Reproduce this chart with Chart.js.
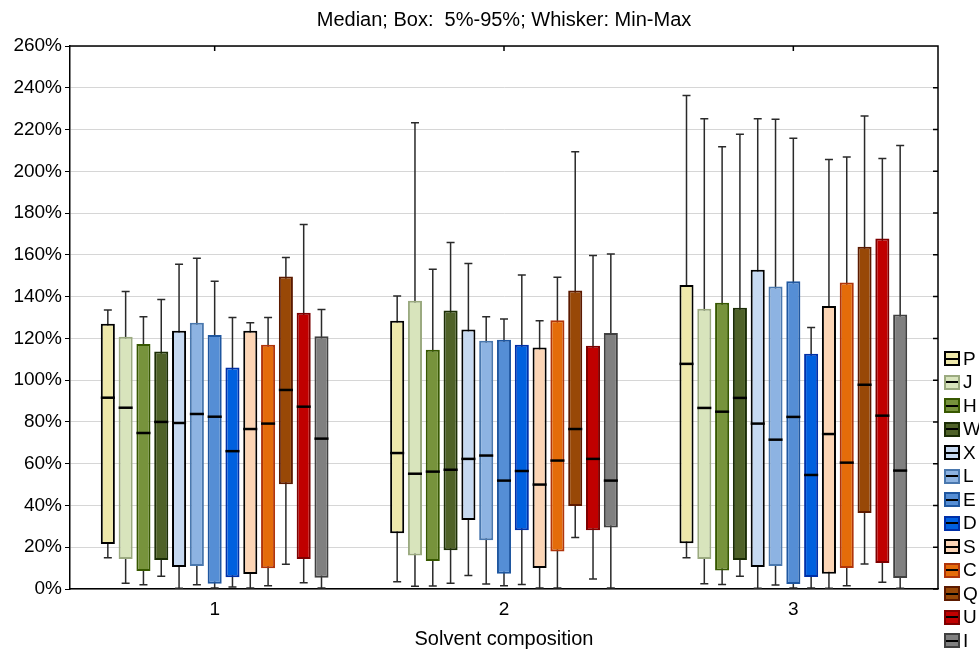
<!DOCTYPE html>
<html>
<head>
<meta charset="utf-8">
<script src="https://cdn.jsdelivr.net/npm/chart.js@4/dist/chart.umd.min.js"></script>
<style>
  body { margin: 0; background: #fff; font-family: "Liberation Sans", Arial, sans-serif; }
  #wrap { position: relative; width: 979px; height: 651px; overflow: hidden; }
  #legend { position: absolute; left: 944px; top: 347px; }
  .item { height: 23.5px; display: flex; align-items: center; white-space: nowrap; }
  .sw { width: 12px; height: 11px; border: 2px solid #000; position: relative; margin-right: 3px; }
  .sw::after { content: ""; position: absolute; left: 0; right: 0; top: 4.5px; height: 2px; background: #000; }
  .lab { font-size: 19px; color: #000; }
</style>
</head>
<body>
<div id="wrap">
  <canvas id="boxChart" width="979" height="651"></canvas>
  <div id="legend"></div>
</div>
<script>
// categories and series
const categories = ['1', '2', '3'];
const seriesNames = ['P', 'J', 'H', 'W', 'X', 'L', 'E', 'D', 'S', 'C', 'Q', 'U', 'I'];

// values in %, one row per series, one column per category
const minVals = [
  [15, 3.5, 15], [2.7, 1.3, 2.5], [2, 1.4, 2.1], [6.1, 2.7, 6.1], [0.3, 6.5, 0.3],
  [2, 2.4, 1.9], [0.5, 1.6, 0.5], [1, 2.1, 0.5], [0.5, 0.5, 0.3], [1.6, 0.5, 1.6],
  [11.8, 24.6, 12], [3, 4.8, 3.2], [0.5, 0.5, 0.3]
];
const p5Vals = [
  [21.5, 26.7, 21.9], [14.4, 16, 14.4], [8.6, 13.4, 8.8], [13.9, 18.5, 13.9], [10.5, 33, 10.5],
  [11, 23.3, 11], [2.5, 7.3, 2.4], [5.6, 28.1, 5.7], [7.2, 10.1, 7.3], [9.9, 18, 10.1],
  [50.1, 39.8, 36.4], [14.4, 28.1, 12.5], [5.4, 29.4, 5.3]
];
const medianVals = [
  [91.6, 65.1, 107.8], [86.8, 55.2, 86.7], [74.7, 56.2, 84.9], [80, 57.1, 91.5], [79.5, 62.3, 79.2],
  [83.8, 63.9, 71.5], [82.5, 51.9, 82.4], [66, 56.5, 54.6], [76.6, 50, 74.2], [79.2, 61.5, 60.5],
  [95.3, 76.6, 97.8], [87.3, 62.3, 83], [72, 51.9, 56.7]
];
const p95Vals = [
  [127, 128.5, 145.6], [120.8, 138, 134.2], [117.3, 114.6, 137.1], [113.7, 133.3, 134.7], [123.6, 124.2, 152.9],
  [127.5, 118.9, 144.8], [121.6, 119.4, 147.4], [106, 117, 112.7], [123.6, 115.6, 135.5], [116.9, 128.7, 146.7],
  [149.6, 142.9, 163.9], [132.3, 116.5, 167.8], [121, 122.6, 131.4]
];
const maxVals = [
  [133.6, 140.3, 236.3], [142.4, 223.3, 225.2], [130.3, 153.1, 211.7], [138.6, 165.9, 217.8], [155.5, 155.8, 225.2],
  [158.4, 130.3, 224.9], [147.4, 129.3, 215.8], [130, 150.4, 125.2], [127.5, 128.4, 205.6], [130, 149.3, 206.8],
  [158.7, 209.4, 226.5], [174.5, 159.7, 206.1], [133.8, 160.4, 212.3]
];

const fills = ['#EEE8AA', '#D8E4BC', '#77933C', '#4F6228', '#C6D9F1', '#8DB3E2', '#558ED5',
               '#0060DF', '#FCD5B5', '#E46C0A', '#984807', '#C00000', '#808080'];
const borders = ['#000000', '#9BAA80', '#375800', '#1B2D05', '#000000', '#4A78AE', '#1F57A0',
                 '#0030A8', '#000000', '#B0350A', '#5C1A00', '#7E0000', '#404040'];

const FONT = '"Liberation Sans", Arial, sans-serif';

const datasets = seriesNames.map((name, i) => ({
  label: name,
  data: categories.map((c, j) => [p5Vals[i][j], p95Vals[i][j]]),
  backgroundColor: fills[i],
  borderColor: borders[i],
  borderWidth: 2,
  borderSkipped: false,
  categoryPercentage: 0.8,
  barPercentage: 0.79
}));

// whiskers behind the boxes, medians on top
const boxPlot = {
  id: 'boxPlot',
  afterLayout(chart) {
    // centre the title over the plot area
    if (chart.titleBlock) {
      chart.titleBlock.left = chart.chartArea.left;
      chart.titleBlock.right = chart.chartArea.right;
      chart.titleBlock.width = chart.chartArea.right - chart.chartArea.left;
    }
  },
  beforeDatasetsDraw(chart) {
    const ctx = chart.ctx, y = chart.scales.y;
    ctx.save();
    ctx.strokeStyle = '#2a2a2a';
    ctx.lineWidth = 1.5;
    chart.data.datasets.forEach((ds, i) => {
      chart.getDatasetMeta(i).data.forEach((bar, j) => {
        const yLo = y.getPixelForValue(minVals[i][j]);
        const yHi = y.getPixelForValue(maxVals[i][j]);
        ctx.beginPath();
        ctx.moveTo(bar.x, yLo); ctx.lineTo(bar.x, yHi);
        ctx.moveTo(bar.x - 4, yLo); ctx.lineTo(bar.x + 4, yLo);
        ctx.moveTo(bar.x - 4, yHi); ctx.lineTo(bar.x + 4, yHi);
        ctx.stroke();
      });
    });
    ctx.restore();
  },
  afterDatasetsDraw(chart) {
    const ctx = chart.ctx, y = chart.scales.y;
    ctx.save();
    ctx.strokeStyle = '#000';
    ctx.lineWidth = 2.5;
    chart.data.datasets.forEach((ds, i) => {
      chart.getDatasetMeta(i).data.forEach((bar, j) => {
        const ym = y.getPixelForValue(medianVals[i][j]);
        ctx.beginPath();
        ctx.moveTo(bar.x - bar.width / 2, ym);
        ctx.lineTo(bar.x + bar.width / 2, ym);
        ctx.stroke();
      });
    });
    ctx.restore();
  },
  afterDraw(chart) {
    // top and right frame with inward ticks
    const ctx = chart.ctx, a = chart.chartArea, x = chart.scales.x, y = chart.scales.y;
    ctx.save();
    ctx.strokeStyle = '#000';
    ctx.lineWidth = 1.5;
    ctx.beginPath();
    ctx.moveTo(a.left, a.top); ctx.lineTo(a.right, a.top); ctx.lineTo(a.right, a.bottom);
    y.ticks.forEach((t, k) => {
      const py = y.getPixelForTick(k);
      ctx.moveTo(a.right, py); ctx.lineTo(a.right - 5, py);
    });
    x.ticks.forEach((t, k) => {
      const px = x.getPixelForTick(k);
      ctx.moveTo(px, a.top); ctx.lineTo(px, a.top + 5);
    });
    ctx.stroke();
    ctx.restore();
  }
};

new Chart(document.getElementById('boxChart'), {
  type: 'bar',
  data: { labels: categories, datasets: datasets },
  options: {
    responsive: false,
    animation: false,
    layout: { padding: { right: 41 } },
    plugins: {
      legend: { display: false },
      tooltip: { enabled: false },
      title: {
        display: true,
        text: 'Median; Box:  5%-95%; Whisker: Min-Max',
        color: '#000',
        font: { family: FONT, size: 20, weight: 'normal' },
        padding: { top: 8, bottom: 14 }
      }
    },
    scales: {
      x: {
        grid: { display: false, drawTicks: false },
        border: { display: true, color: '#000', width: 1.5 },
        ticks: { color: '#000', font: { family: FONT, size: 19 }, padding: 9 },
        title: {
          display: true,
          text: 'Solvent composition',
          color: '#000',
          font: { family: FONT, size: 20 },
          padding: 0
        },
        afterFit(scale) { scale.height = 62; }
      },
      y: {
        min: 0,
        max: 260,
        ticks: {
          stepSize: 20,
          color: '#000',
          font: { family: FONT, size: 19 },
          padding: 3,
          callback: v => v + '%'
        },
        grid: { color: '#d6d6d6', lineWidth: 1, tickLength: 5, tickColor: '#000' },
        border: { display: true, color: '#000', width: 1.5 },
        afterFit(scale) { scale.width = 70; }
      }
    }
  },
  plugins: [boxPlot]
});

// legend
const legend = document.getElementById('legend');
seriesNames.forEach((name, i) => {
  const item = document.createElement('div');
  item.className = 'item';
  const sw = document.createElement('div');
  sw.className = 'sw';
  sw.style.background = fills[i];
  sw.style.borderColor = borders[i];
  const lab = document.createElement('span');
  lab.className = 'lab';
  lab.textContent = name;
  item.appendChild(sw);
  item.appendChild(lab);
  legend.appendChild(item);
});
</script>
</body>
</html>
